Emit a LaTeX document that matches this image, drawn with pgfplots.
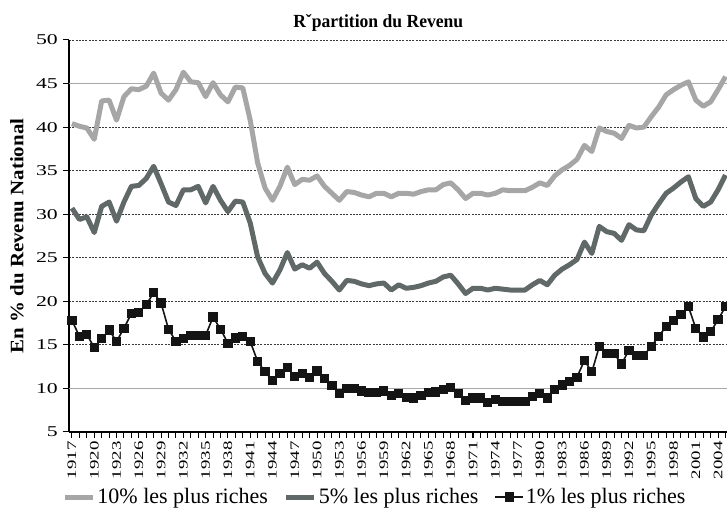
\documentclass[border=0pt]{standalone}
\usepackage{fontspec}
\setmainfont{Liberation Serif}
\usepackage{graphicx}
\usepackage{pgfplots}
\pgfplotsset{compat=1.18}
\usepackage{pgfplotstable}
\definecolor{cTen}{HTML}{A6A6A6}
\definecolor{cFive}{HTML}{606868}
\definecolor{cOne}{HTML}{141414}
\definecolor{gridd}{HTML}{3A3A3A}
\definecolor{gridl}{HTML}{A8A8A8}
\pgfplotstableread{
year p90 p95 p99
1917 40.4 30.7 17.8
1918 40.1 29.4 16.0
1919 39.9 29.7 16.2
1920 38.6 27.9 14.7
1921 43.0 30.9 15.7
1922 43.1 31.4 16.7
1923 40.8 29.2 15.4
1924 43.5 31.4 16.9
1925 44.4 33.2 18.6
1926 44.3 33.3 18.7
1927 44.7 34.1 19.6
1928 46.2 35.5 21.0
1929 43.9 33.5 19.8
1930 43.1 31.4 16.8
1931 44.3 31.0 15.4
1932 46.3 32.8 15.7
1933 45.2 32.8 16.1
1934 45.1 33.2 16.1
1935 43.5 31.3 16.1
1936 45.1 33.2 18.2
1937 43.7 31.6 16.8
1938 42.9 30.3 15.2
1939 44.6 31.5 15.8
1940 44.5 31.4 16.0
1941 40.8 29.0 15.4
1942 35.9 25.1 13.1
1943 33.0 23.2 11.9
1944 31.6 22.1 10.9
1945 33.2 23.6 11.7
1946 35.4 25.6 12.4
1947 33.4 23.7 11.4
1948 34.0 24.2 11.7
1949 33.9 23.8 11.3
1950 34.4 24.5 12.0
1951 33.2 23.2 11.1
1952 32.4 22.3 10.3
1953 31.6 21.3 9.4
1954 32.6 22.4 10.0
1955 32.5 22.3 10.0
1956 32.2 22.0 9.7
1957 32.0 21.8 9.5
1958 32.4 22.0 9.5
1959 32.4 22.1 9.7
1960 32.0 21.3 9.2
1961 32.4 21.9 9.4
1962 32.4 21.5 9.0
1963 32.3 21.6 8.9
1964 32.6 21.8 9.2
1965 32.8 22.1 9.5
1966 32.8 22.3 9.6
1967 33.4 22.8 9.9
1968 33.6 23.0 10.1
1969 32.8 22.0 9.4
1970 31.8 20.9 8.6
1971 32.4 21.5 8.9
1972 32.4 21.5 8.9
1973 32.2 21.3 8.4
1974 32.4 21.5 8.7
1975 32.8 21.4 8.5
1976 32.7 21.3 8.5
1977 32.7 21.3 8.5
1978 32.7 21.3 8.5
1979 33.1 21.9 9.1
1980 33.6 22.4 9.4
1981 33.3 21.9 8.9
1982 34.4 23.0 9.9
1983 35.1 23.7 10.4
1984 35.6 24.2 10.8
1985 36.3 24.8 11.3
1986 37.9 26.8 13.2
1987 37.2 25.5 11.9
1988 39.9 28.6 14.8
1989 39.5 28.0 14.0
1990 39.3 27.8 14.0
1991 38.7 27.0 12.8
1992 40.2 28.8 14.4
1993 39.9 28.2 13.8
1994 40.0 28.1 13.8
1995 41.2 29.9 14.8
1996 42.3 31.2 16.0
1997 43.7 32.4 17.1
1998 44.3 33.0 17.8
1999 44.8 33.7 18.5
2000 45.2 34.3 19.4
2001 43.1 31.8 16.9
2002 42.4 30.9 15.9
2003 42.9 31.4 16.5
2004 44.3 32.8 17.9
2005 45.8 34.5 19.4
}\data

\begin{document}
\begin{tikzpicture}
\begin{axis}[
  scale only axis, width=658pt, height=392pt,
  xmin=1916.6, xmax=2005.2, ymin=5, ymax=50,
  axis x line*=bottom, axis y line*=left,
  axis line style={black, line width=1.3pt},
  xtick={1917,1920,...,2004},
  minor xtick={1917,...,2005},
  ytick={5,15,20,25,30,35,40,50},
  extra y ticks={10,45},
  extra y tick style={grid=major, major grid style={solid, color=gridl, line width=1.4pt}},
  ymajorgrids=true,
  major grid style={dash pattern=on 2pt off 1.3pt, color=gridd, line width=0.9pt},
  tick align=outside,
  major tick length=6pt, minor tick length=6pt,
  every tick/.style={black, line width=1pt},
  minor tick style={black, line width=1pt},
  xticklabel={\scalebox{1.45}[1.0]{\pgfmathprintnumber{\tick}}},
  xticklabel style={font=\fontsize{13}{15}\selectfont, rotate=90, anchor=east},
  yticklabel style={font=\fontsize{15}{18}\selectfont, xscale=1.45},
  /pgf/number format/assume math mode=true,
  /pgf/number format/1000 sep={},
  title={Rˇpartition du Revenu},
  title style={font=\bfseries\fontsize{18.5}{20}\selectfont\addfontfeature{FakeStretch=0.95}, at={(axis description cs:0.47,1.027)}, anchor=center},
  ylabel={En \% du Revenu National},
  ylabel style={font=\bfseries\fontsize{19}{22}\selectfont, at={(axis description cs:-0.079,0.5)}, anchor=center, xscale=1.1},
  legend columns=3,
  legend style={draw=none, fill=none, at={(axis description cs:0.465,-0.166)}, anchor=center,
    font=\fontsize{22}{24}\selectfont, nodes={inner xsep=2pt},
    /tikz/every even column/.append style={column sep=14pt}},
  legend image code/.code={\draw[mark repeat=2,mark phase=2,#1] plot coordinates {(0pt,0pt) (14pt,0pt) (28pt,0pt)};},
]
\addplot[cTen, line width=5pt, line join=round] table[x=year,y=p90]{\data};
\addlegendentry{10\% les plus riches}
\addplot[cFive, line width=5pt, line join=round] table[x=year,y=p95]{\data};
\addlegendentry{5\% les plus riches}
\addplot[cOne, line width=1.6pt, mark=square*, mark size=3.8pt, mark options={solid}] table[x=year,y=p99]{\data};
\addlegendentry{1\% les plus riches}
\coordinate (bbtl) at (rel axis cs:-0.10486,1.10204);
\coordinate (bbbr) at (rel axis cs:1,-0.21429);
\end{axis}
\pgfresetboundingbox
\path (bbtl) rectangle (bbbr);
\end{tikzpicture}
\end{document}
